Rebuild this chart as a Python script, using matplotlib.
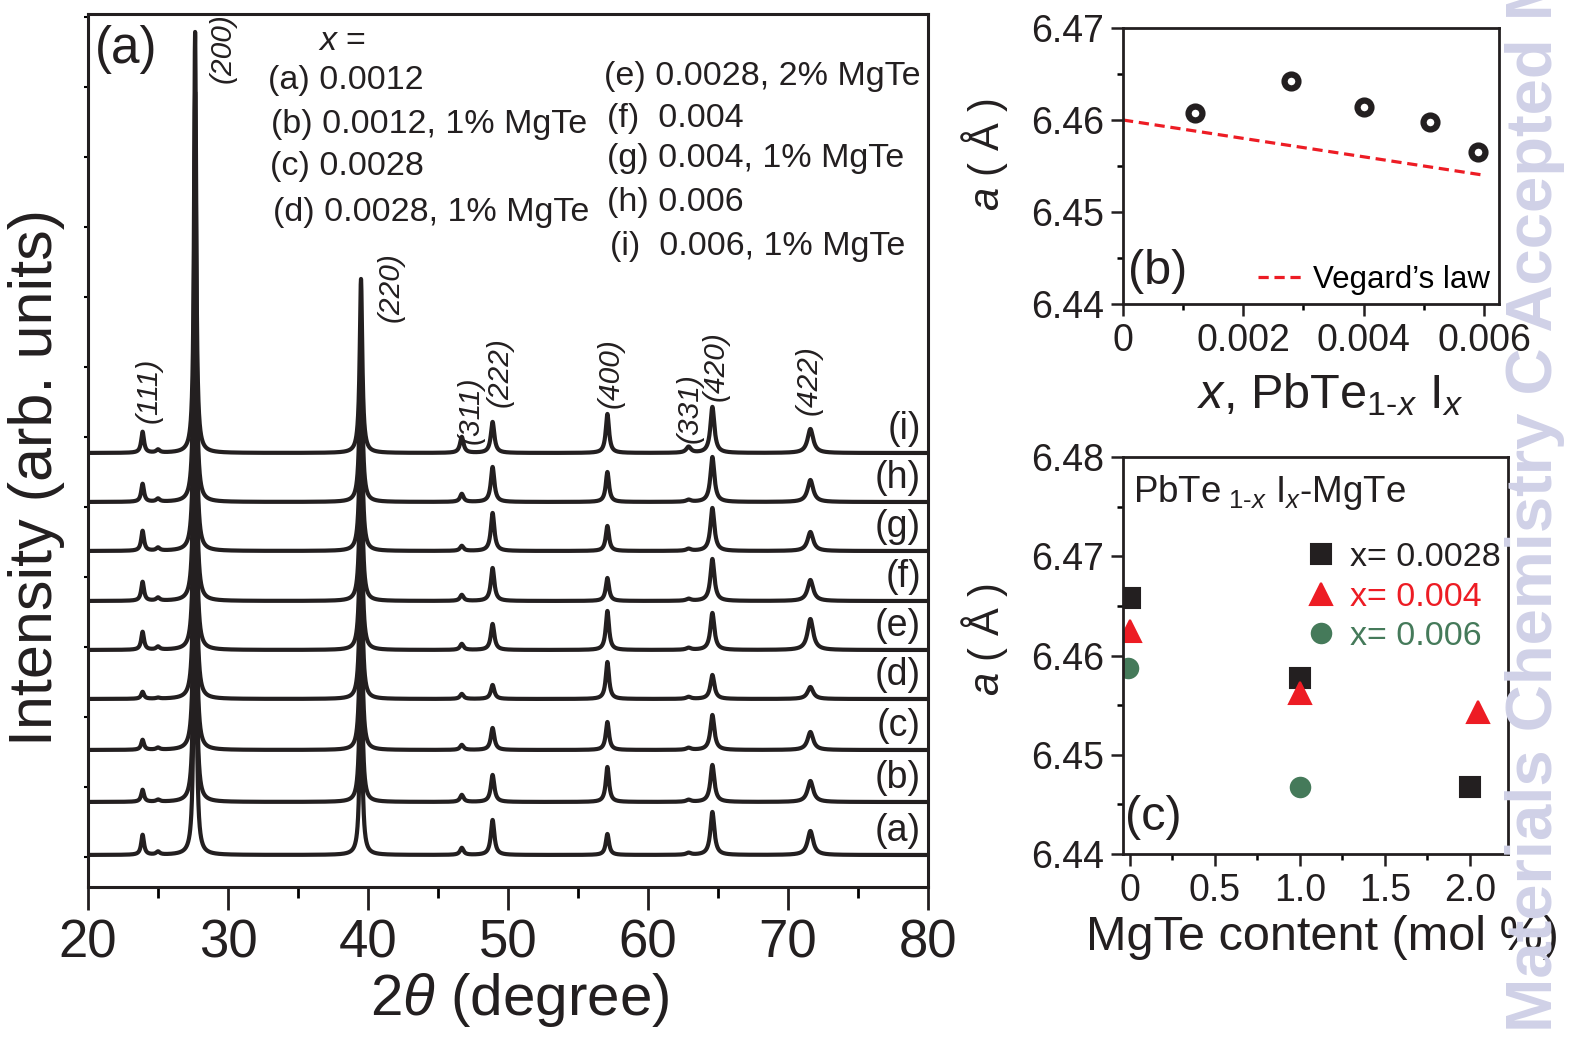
import numpy as np
import matplotlib
matplotlib.use('Agg')
import matplotlib.pyplot as plt
from matplotlib.ticker import MultipleLocator, FixedLocator, NullFormatter, FixedFormatter

plt.rcParams['font.family'] = ['Liberation Sans', 'DejaVu Sans']
plt.rcParams['mathtext.fontset'] = 'custom'
plt.rcParams['mathtext.rm'] = 'Liberation Sans'
plt.rcParams['mathtext.it'] = 'Liberation Sans:italic'
plt.rcParams['mathtext.bf'] = 'Liberation Sans:bold'

W, H = 1577, 1041
INK = '#231f20'

# ---------------- data ----------------
# (a) XRD patterns: peak positions (2theta), half widths and heights per sample
peak_hkl = ['(111)', '', '(200)', '(220)', '(311)', '(222)', '(400)', '(331)', '(420)', '(422)']
peak_pos = [23.9, 25.0, 27.65, 39.5, 46.7, 48.9, 57.1, 62.9, 64.6, 71.6]
peak_hwhm = [0.12, 0.15, 0.09, 0.11, 0.15, 0.15, 0.14, 0.2, 0.17, 0.24]
sample_labels = ['(a)', '(b)', '(c)', '(d)', '(e)', '(f)', '(g)', '(h)', '(i)']
trace_offset = [32, 85, 137, 188, 237, 286, 336, 385, 434]
peak_height = [
    [20, 3, 410, 175, 7, 35, 21, 2, 43, 24],   # (a)
    [12, 2, 410, 175, 7, 27, 35, 2, 37, 21],   # (b)
    [10, 2, 410, 175, 5, 22, 28, 2, 35, 18],   # (c)
    [7, 1, 410, 175, 5, 14, 37, 2, 24, 12],    # (d)
    [18, 3, 410, 175, 6, 26, 39, 2, 37, 31],   # (e)
    [19, 3, 410, 175, 6, 33, 23, 2, 42, 21],   # (f)
    [20, 3, 410, 175, 5, 38, 25, 2, 43, 19],   # (g)
    [18, 3, 410, 175, 8, 35, 30, 2, 45, 22],   # (h)
    [21, 3, 421, 174, 16, 31, 39, 6, 46, 24],  # (i)
]
legend_left = ['(a) 0.0012', '(b) 0.0012, 1% MgTe', '(c) 0.0028', '(d) 0.0028, 1% MgTe']
legend_right = ['(e) 0.0028, 2% MgTe', '(f)  0.004', '(g) 0.004, 1% MgTe', '(h) 0.006',
                '(i)  0.006, 1% MgTe']

# (b) lattice parameter vs x
b_x = [0.0012, 0.0028, 0.0040, 0.0051, 0.0059]
b_a = [6.4608, 6.4642, 6.4614, 6.4598, 6.4565]
vegard_x = [0.0, 0.006]
vegard_a = [6.4600, 6.4540]

# (c) lattice parameter vs MgTe content
c_mg_0028 = [0.0, 1.0, 2.0]
c_a_0028 = [6.4658, 6.4577, 6.4468]
c_mg_004 = [0.0, 1.0, 2.05]
c_a_004 = [6.4625, 6.4562, 6.4543]
c_mg_006 = [-0.01, 1.0]
c_a_006 = [6.4587, 6.4468]


def fx(px):
    return px / W


def fy(py):
    return 1 - py / H


def pattern(tt, heights):
    y = np.zeros_like(tt)
    for x0, w, h in zip(peak_pos, peak_hwhm, heights):
        y += h / (1 + ((tt - x0) / w) ** 2)
    return y


fig = plt.figure(figsize=(W / 100, H / 100), dpi=100)

# ---------------- panel (a) ----------------
ax_a = fig.add_axes([fx(88), fy(887), (928 - 88) / W, (887 - 14) / H])
tt = np.linspace(20, 80, 6001)
for off, hts, lab in zip(trace_offset, peak_height, sample_labels):
    ax_a.plot(tt, off + pattern(tt, hts), color=INK, lw=3.0, solid_joinstyle='round')
    ax_a.text(79.5, off + 24, lab, ha='right', va='center', fontsize=27, color=INK)

hkl_xy = [(24.3, 497), None, (29.6, 839), (41.6, 600), (47.3, 477), (49.4, 515),
          (57.3, 514), (63.0, 479), (64.8, 521), (71.45, 507)]
for hkl, xy in zip(peak_hkl, hkl_xy):
    if xy is None:
        continue
    ax_a.text(xy[0], xy[1], hkl, rotation=90, ha='center', va='center',
              fontsize=21.5, style='italic', color=INK)

ax_a.set_xlim(20, 80)
ax_a.set_ylim(0, 873)
ax_a.xaxis.set_major_locator(MultipleLocator(10))
ax_a.xaxis.set_minor_locator(MultipleLocator(5))
ax_a.yaxis.set_major_locator(FixedLocator(np.arange(30, 873, 70)))
ax_a.yaxis.set_major_formatter(NullFormatter())
ax_a.tick_params(axis='x', which='major', direction='out', length=16.5, width=2,
                 pad=6, labelsize=38, colors=INK)
ax_a.tick_params(axis='x', which='minor', direction='out', length=8, width=2)
ax_a.tick_params(axis='y', which='major', direction='out', length=3, width=1.5)
for sp in ax_a.spines.values():
    sp.set_linewidth(2.2)
    sp.set_color(INK)

fig.text(fx(37), fy(478), 'Intensity (arb. units)', rotation=90, ha='center',
         va='center', fontsize=44, color=INK)
fig.text(fx(520), fy(1000), r'2$\theta$ (degree)', ha='center', va='center',
         fontsize=42, color=INK)
fig.text(fx(95), fy(50), '(a)', va='center', fontsize=37, color=INK)

fig.text(fx(318), fy(42), r'$x$ =', va='center', fontsize=24.5, color=INK)
for i, s in enumerate(legend_left):
    fig.text(fx([268, 271, 270, 273][i]), fy([80, 124, 166, 212][i]), s,
             va='center', fontsize=24.5, color=INK)
for i, s in enumerate(legend_right):
    fig.text(fx([604, 607, 607, 607, 610][i]), fy([77, 119, 159, 202, 247][i]), s,
             va='center', fontsize=24.5, color=INK)

# ---------------- panel (b) ----------------
ax_b = fig.add_axes([fx(1123), fy(304), (1499 - 1123) / W, (304 - 28) / H])
ax_b.plot(vegard_x, vegard_a, color='#ed1c24', lw=2.3, dashes=(3.2, 1.8),
          label="Vegard\u2019s law")
ax_b.plot(b_x, b_a, 'o', ms=10, mew=4.5, mfc='white', mec=INK, ls='none')
ax_b.set_xlim(0, 0.00625)
ax_b.set_ylim(6.44, 6.47)
ax_b.xaxis.set_major_locator(FixedLocator([0, 0.002, 0.004, 0.006]))
ax_b.xaxis.set_major_formatter(FixedFormatter(['0', '0.002', '0.004', '0.006']))
ax_b.xaxis.set_minor_locator(MultipleLocator(0.001))
ax_b.yaxis.set_major_locator(FixedLocator([6.44, 6.45, 6.46, 6.47]))
ax_b.yaxis.set_major_formatter(FixedFormatter(['6.44', '6.45', '6.46', '6.47']))
ax_b.yaxis.set_minor_locator(MultipleLocator(0.005))
ax_b.legend(loc='lower right', frameon=False, fontsize=22.5, handlelength=1.4,
            handletextpad=0.35, borderaxespad=0.1, borderpad=0.2)

# ---------------- panel (c) ----------------
ax_c = fig.add_axes([fx(1123), fy(854), (1508 - 1123) / W, (854 - 457) / H])
ax_c.plot(c_mg_0028, c_a_0028, 's', ms=14.5, mew=1.5, color=INK, mec=INK,
          mfc=INK, ls='none', label='x= 0.0028')
ax_c.plot(c_mg_004, c_a_004, '^', ms=16.5, mew=1.5, color='#ed1c24', mec='#ed1c24',
          mfc='#ed1c24', ls='none', label='x= 0.004')
ax_c.plot(c_mg_006, c_a_006, 'o', ms=15.5, mew=0, color='#457a5a', mfc='#457a5a',
          ls='none', label='x= 0.006')
for ln in ax_c.lines:
    ln.set_markeredgecolor(ln.get_markerfacecolor())
ax_c.set_xlim(-0.041, 2.224)
ax_c.set_ylim(6.44, 6.48)
ax_c.xaxis.set_major_locator(FixedLocator([0, 0.5, 1.0, 1.5, 2.0]))
ax_c.xaxis.set_major_formatter(FixedFormatter(['0', '0.5', '1.0', '1.5', '2.0']))
ax_c.xaxis.set_minor_locator(MultipleLocator(0.25))
ax_c.yaxis.set_major_locator(FixedLocator([6.44, 6.45, 6.46, 6.47, 6.48]))
ax_c.yaxis.set_major_formatter(FixedFormatter(['6.44', '6.45', '6.46', '6.47', '6.48']))
ax_c.yaxis.set_minor_locator(MultipleLocator(0.005))
ax_c.legend(loc='upper left', bbox_to_anchor=(0.47, 0.785), frameon=False,
            fontsize=24.5, handlelength=1.0, handletextpad=0.35, labelspacing=0.24,
            borderpad=0, borderaxespad=0, labelcolor='markerfacecolor')
ax_c.text(0.025, 0.91, r'PbTe$_{\ 1\text{-}x}$ I$_{x}$-MgTe', transform=ax_c.transAxes,
          va='center', fontsize=26.5, color=INK)

for ax in (ax_b, ax_c):
    ax.tick_params(which='major', direction='out', length=8.5, width=1.8, pad=5,
                   labelsize=27, colors=INK)
    ax.tick_params(which='minor', direction='out', length=4.5, width=1.8)
    for sp in ax.spines.values():
        sp.set_linewidth(2.0)
        sp.set_color(INK)

fig.text(fx(985), fy(155), r'$a$ ( Å )', rotation=90, ha='center', va='center',
         fontsize=30, color=INK)
fig.text(fx(1330), fy(395), r'$x$, PbTe$_{1\text{-}x}$ I$_{x}$', ha='center',
         va='center', fontsize=35, color=INK)
fig.text(fx(1128), fy(272), '(b)', va='center', fontsize=35, color=INK)

fig.text(fx(985), fy(640), r'$a$ ( Å )', rotation=90, ha='center', va='center',
         fontsize=30, color=INK)
fig.text(fx(1322), fy(938), 'MgTe content (mol %)', ha='center', va='center',
         fontsize=35, color=INK)
fig.text(fx(1125), fy(818), '(c)', va='center', fontsize=35, color=INK)

# journal watermark
fig.text(fx(1535), fy(1032), 'Materials Chemistry C Accepted Manuscript', rotation=90,
         ha='center', va='bottom', fontsize=47, fontweight='bold', color='#d0d1e7',
         zorder=10)

fig.savefig('out.png', dpi=100)
